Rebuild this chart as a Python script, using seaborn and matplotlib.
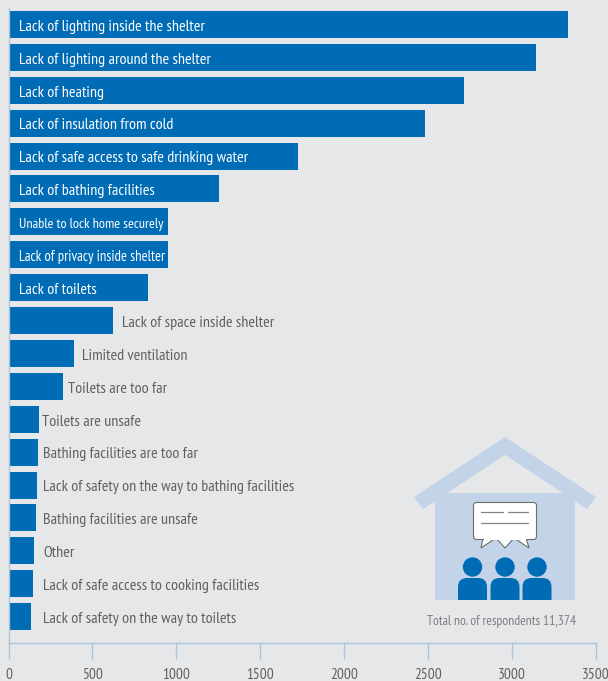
import pandas as pd
import matplotlib.pyplot as plt
import seaborn as sns
from matplotlib.patches import Polygon, Rectangle, Circle, FancyBboxPatch

## chart values
reasons = ['Lack of lighting inside the shelter', 'Lack of lighting around the shelter', 'Lack of heating',
           'Lack of insulation from cold', 'Lack of safe access to safe drinking water',
           'Lack of bathing facilities', 'Unable to lock home securely', 'Lack of privacy inside shelter',
           'Lack of toilets', 'Lack of space inside shelter', 'Limited ventilation', 'Toilets are too far',
           'Toilets are unsafe', 'Bathing facilities are too far', 'Lack of safety on the way to bathing facilities',
           'Bathing facilities are unsafe', 'Other', 'Lack of safe access to cooking facilities',
           'Lack of safety on the way to toilets']
counts = [3336, 3145, 2716, 2483, 1726, 1255, 951, 951, 832, 623, 390, 325, 182, 176, 170, 165, 153, 146, 134]
x_ticks = [0, 500, 1000, 1500, 2000, 2500, 3000, 3500]

## label offset from bar end, px (outside labels only)
n_inside = 9
label_gap = [9, 8, 5, 3, 5, 6, 7, 9, 10, 12]

## these two are squeezed to stay inside their bars
squeezed = {'Unable to lock home securely': 10.2, 'Lack of privacy inside shelter': 10.5}

BG = '#E6E7E9'
BLUE = '#006CB5'
AXIS = '#A9C5DC'
TEXT = '#5F6062'
HOUSE = '#C3D3E8'

sns.set_theme(style='white')
## PT Sans Narrow is closest to the original type; Roboto is the fallback
plt.rcParams['font.family'] = ['PT Sans Narrow', 'Roboto', 'DejaVu Sans']
plt.rcParams['axes.facecolor'] = BG
plt.rcParams['figure.facecolor'] = BG

df = pd.DataFrame({'reason': reasons, 'count': counts})

W, H = 608, 681
fig = plt.figure(figsize=(W / 100, H / 100), dpi=100)
ax = fig.add_axes([8.5 / W, 1 - 643 / H, 587 / W, 635 / H])

sns.barplot(df, x='count', y='reason', color=BLUE, saturation=1, width=0.82, linewidth=0, ax=ax)
ax.set_xlim(0, 3500)
ax.set_ylim(18.8, -0.5)
ax.set_xlabel('')
ax.set_ylabel('')
ax.set_yticks([])
ax.set_xticks(x_ticks)
ax.tick_params(axis='x', length=11.5, width=1, color=AXIS, pad=6.5, labelsize=11, labelcolor=TEXT, bottom=True)
for s in ['top', 'right']:
    ax.spines[s].set_visible(False)
for s in ['left', 'bottom']:
    ax.spines[s].set_color(AXIS)
    ax.spines[s].set_linewidth(1)

## bar labels
px_unit = 3500 / 587
for i, (name, val) in enumerate(zip(reasons, counts)):
    size = squeezed.get(name, 11.5)
    if i < n_inside:
        ax.text(10.5 * px_unit, i + 0.07, name, color='white', va='center', ha='left', fontsize=size)
    else:
        ax.text(val + label_gap[i - n_inside] * px_unit, i + 0.07, name, color=TEXT, va='center', ha='left', fontsize=size)

## house icon, drawn in pixel space
icon = fig.add_axes([0, 0, 1, 1], facecolor='none')
icon.set_xlim(0, W)
icon.set_ylim(H, 0)
icon.axis('off')
icon.add_patch(Rectangle((435, 493), 140, 107, color=HOUSE, lw=0))
icon.add_patch(Polygon([(505, 437), (596, 497), (587, 509), (505, 455), (423, 509), (414, 497)], color=HOUSE, lw=0))
icon.add_patch(Polygon([(448, 493), (562, 493), (505, 455)], color=BG, lw=0))

## speech bubble
icon.add_patch(Polygon([(483, 538), (481, 548), (496, 538), (505, 548), (514, 538), (529, 548), (526, 538)],
                       facecolor='white', edgecolor='#6D6E71', lw=0.8))
icon.add_patch(FancyBboxPatch((475, 504), 60, 34, boxstyle='round,pad=1.5,rounding_size=3',
                              facecolor='white', edgecolor='#6D6E71', lw=0.8))
icon.add_patch(Rectangle((484, 538), 42, 1.5, color='white', lw=0))
icon.plot([481, 503], [512, 512], color='#808285', lw=0.9)
icon.plot([508, 528], [512, 512], color='#808285', lw=0.9)
icon.plot([481, 528], [522.5, 522.5], color='#808285', lw=0.9)

## people
for cx in [472.5, 505, 537]:
    icon.add_patch(Circle((cx, 567), 9.7, color=BLUE, lw=0))
    body = FancyBboxPatch((cx - 14.5, 578), 29, 34, boxstyle='round,pad=0,rounding_size=9', color=BLUE, lw=0)
    icon.add_patch(body)
    body.set_clip_path(Rectangle((400, 570), 200, 30, transform=icon.transData))

icon.text(502, 621.5, 'Total no. of respondents 11,374', color='#7D7E81', fontsize=9.7, ha='center', va='center')

fig.savefig('out.png', dpi=100, facecolor=BG)
